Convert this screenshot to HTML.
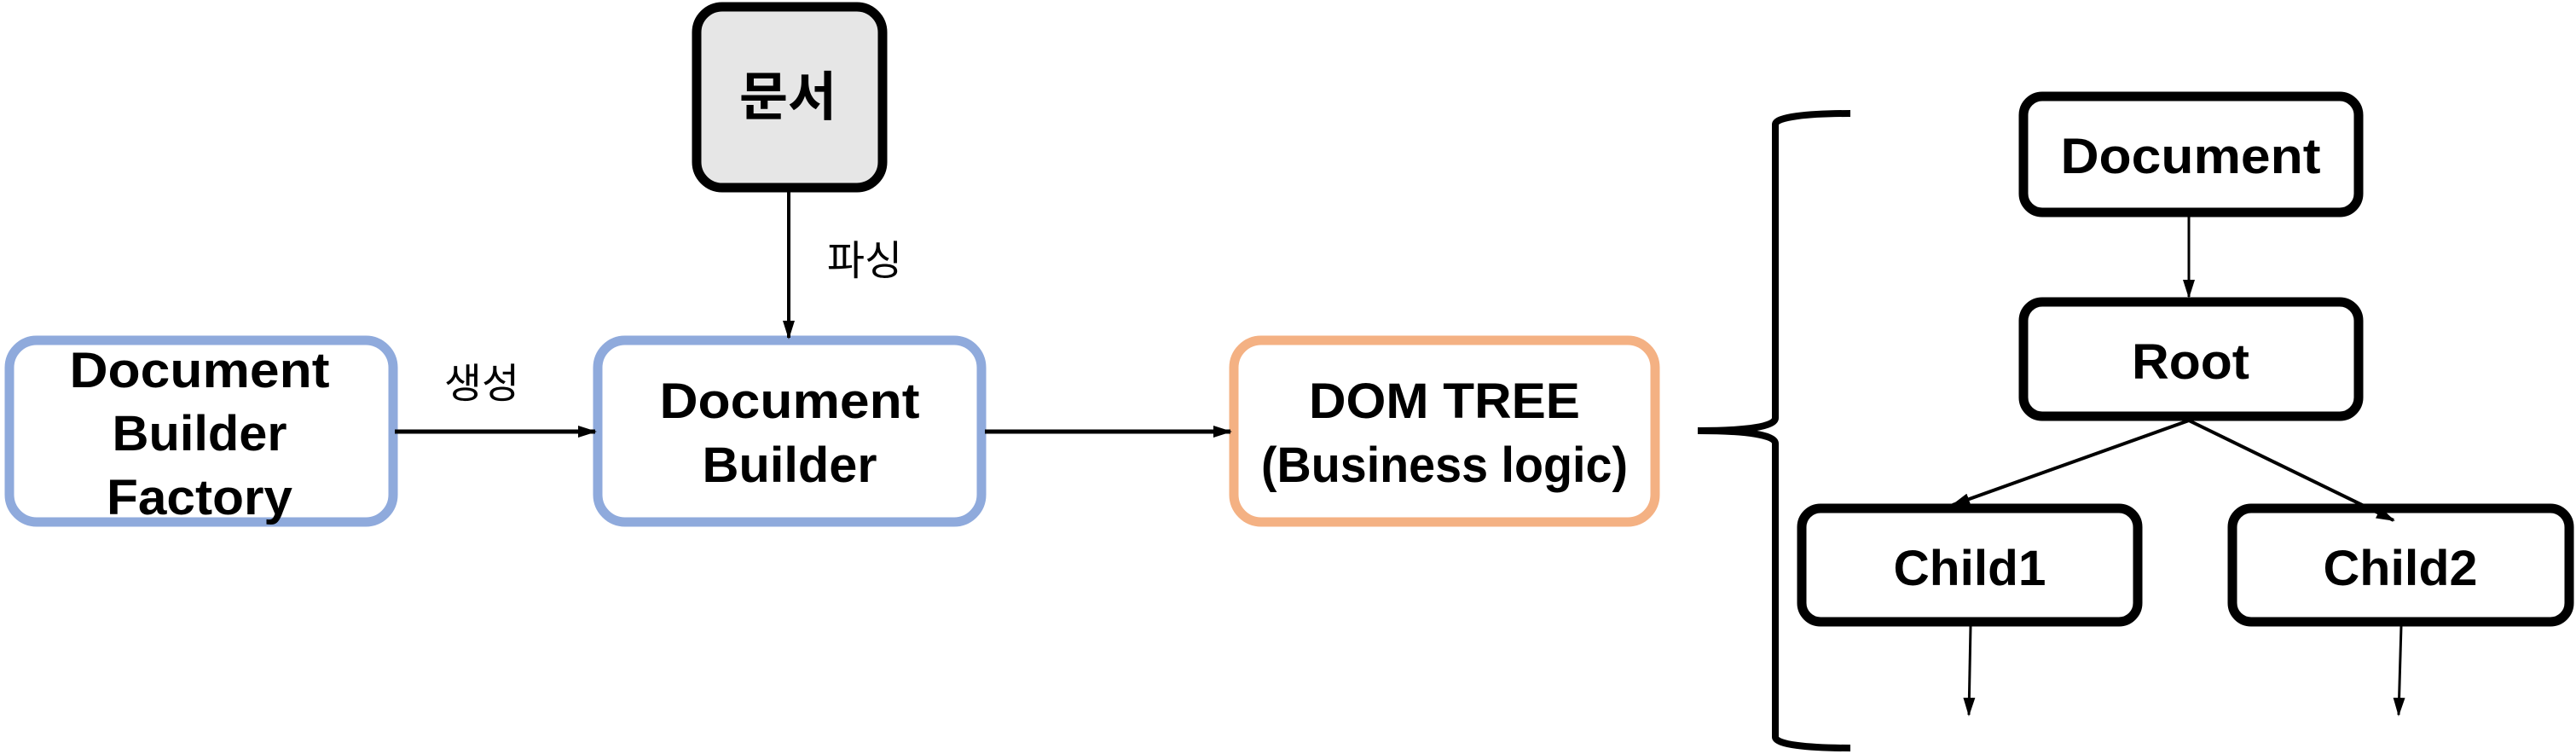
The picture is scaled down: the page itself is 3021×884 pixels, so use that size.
<!DOCTYPE html>
<html><head><meta charset="utf-8"><style>html,body{margin:0;padding:0;background:#fff}svg{display:block}</style></head>
<body>
<svg width="3021" height="884" viewBox="0 0 3021 884" xmlns="http://www.w3.org/2000/svg">
<defs>
<marker id="a" markerWidth="22" markerHeight="14" refX="20" refY="7" orient="auto" markerUnits="userSpaceOnUse" viewBox="0 0 22 14">
<path d="M0,0 L22,7 L0,14 z" fill="#000"/></marker>
</defs>
<g font-family="'Liberation Sans','Noto Sans CJK KR',sans-serif" font-weight="bold" text-anchor="middle" fill="#000">
<rect x="817" y="8" width="218" height="212" rx="30" fill="#e6e6e6" stroke="#000" stroke-width="11"/>
<text x="924" y="135" font-size="62">문서</text>
<rect x="11" y="399" width="450" height="213" rx="32" fill="#fff" stroke="#8faadc" stroke-width="11"/>
<text x="234" y="454" font-size="58" textLength="305" lengthAdjust="spacingAndGlyphs">Document</text>
<text x="234" y="528" font-size="58" textLength="205" lengthAdjust="spacingAndGlyphs">Builder</text>
<text x="234" y="603" font-size="58" textLength="218" lengthAdjust="spacingAndGlyphs">Factory</text>
<rect x="701" y="399" width="450" height="213" rx="32" fill="#fff" stroke="#8faadc" stroke-width="11"/>
<text x="926" y="490" font-size="58" textLength="305" lengthAdjust="spacingAndGlyphs">Document</text>
<text x="926" y="565" font-size="58" textLength="205" lengthAdjust="spacingAndGlyphs">Builder</text>
<rect x="1447" y="399" width="494" height="213" rx="32" fill="#fff" stroke="#f4b183" stroke-width="11"/>
<text x="1694" y="490" font-size="58" textLength="318" lengthAdjust="spacingAndGlyphs">DOM TREE</text>
<text x="1694" y="565" font-size="58" textLength="430" lengthAdjust="spacingAndGlyphs">(Business logic)</text>
<line x1="925" y1="225" x2="925" y2="396" stroke="#000" stroke-width="4" marker-end="url(#a)"/>
<line x1="463" y1="506" x2="698" y2="506" stroke="#000" stroke-width="5" marker-end="url(#a)"/>
<line x1="1155" y1="506" x2="1443" y2="506" stroke="#000" stroke-width="5" marker-end="url(#a)"/>
<text x="1014" y="322" font-size="48" font-weight="normal">파싱</text>
<text x="565" y="466" font-size="48" font-weight="normal">생성</text>
<path d="M2170,133 C2120,133 2082,137 2082,146 L2082,490 C2082,500 2050,505 1991,505 C2050,505 2082,510 2082,520 L2082,864 C2082,873 2120,877 2170,877" fill="none" stroke="#000" stroke-width="8"/>
<rect x="2373" y="113" width="393" height="136" rx="22" fill="#fff" stroke="#000" stroke-width="11"/>
<text x="2569" y="203" font-size="58" textLength="305" lengthAdjust="spacingAndGlyphs">Document</text>
<rect x="2373" y="354" width="393" height="134" rx="22" fill="#fff" stroke="#000" stroke-width="11"/>
<text x="2569" y="444" font-size="58" textLength="138" lengthAdjust="spacingAndGlyphs">Root</text>
<rect x="2113" y="596" width="394" height="133" rx="22" fill="#fff" stroke="#000" stroke-width="11"/>
<text x="2310" y="686" font-size="58" textLength="179" lengthAdjust="spacingAndGlyphs">Child1</text>
<rect x="2618" y="596" width="395" height="133" rx="22" fill="#fff" stroke="#000" stroke-width="11"/>
<text x="2815" y="686" font-size="58" textLength="181" lengthAdjust="spacingAndGlyphs">Child2</text>
<line x1="2567" y1="254" x2="2567" y2="348" stroke="#000" stroke-width="3" marker-end="url(#a)"/>
<line x1="2567" y1="493" x2="2290" y2="592" stroke="#000" stroke-width="4" marker-end="url(#a)"/>
<line x1="2567" y1="493" x2="2807" y2="610" stroke="#000" stroke-width="4" marker-end="url(#a)"/>
<line x1="2311" y1="734" x2="2309" y2="838" stroke="#000" stroke-width="3" marker-end="url(#a)"/>
<line x1="2816" y1="734" x2="2813" y2="838" stroke="#000" stroke-width="3" marker-end="url(#a)"/>
</g>
</svg>
</body></html>
